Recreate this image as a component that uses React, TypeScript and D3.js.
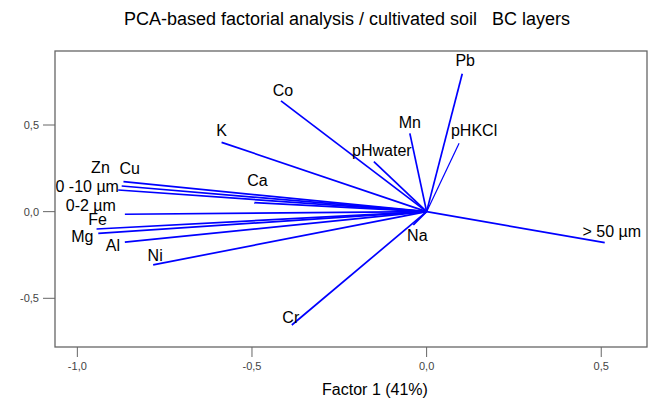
import React, { useRef, useEffect } from "react";
import * as d3 from "d3";

// loadings: factor 1 (x) and factor 2 (y)
const variables = ["Pb", "Mn", "pHKCl", "pHwater", "Co", "K", "Ca", "Zn", "Cu", "0 -10 µm", "0-2 µm", "Fe", "Mg", "Al", "Ni", "Na", "Cr", "> 50 µm"];
const factor1 = [0.102, -0.048, 0.093, -0.151, -0.417, -0.587, -0.493, -0.868, -0.873, -0.883, -0.864, -0.945, -0.94, -0.864, -0.783, -0.038, -0.386, 0.51];
const factor2 = [0.796, 0.452, 0.395, 0.289, 0.639, 0.4, 0.052, 0.173, 0.148, 0.125, -0.015, -0.1, -0.125, -0.176, -0.307, -0.077, -0.654, -0.179];

const xTicks = [-1, -0.5, 0, 0.5];
const yTicks = [-0.5, 0, 0.5];

// label placement relative to the arrow tip (px)
const labelOffsets: { [k: string]: [number, number] } = {
  "Pb": [3, -13],
  "Mn": [0, -11],
  "pHKCl": [15, -13],
  "pHwater": [8, -11],
  "Co": [2, -11],
  "K": [0, -12],
  "Ca": [3, -22],
  "Zn": [-23, -14],
  "Cu": [8, -18],
  "0 -10 µm": [-31, -4],
  "0-2 µm": [-34, -9],
  "Fe": [1, -10],
  "Mg": [-16, 3],
  "Al": [-12, 3],
  "Ni": [2, -9],
  "Na": [4, 10],
  "Cr": [-1, -8],
  "> 50 µm": [7, -11]
};

const fmt = (v: number) => d3.format(".1f")(v).replace(".", ",").replace("−", "-");

const App = () => {
  const node: any = useRef();

  useEffect(() => {
    const width = 650,
      height = 401;
    const left = 55,
      right = 647,
      top = 51,
      bottom = 347;

    const svg = d3.select(node.current).attr("width", width).attr("height", height);
    svg.selectAll("*").remove();

    const x = d3.scaleLinear().domain([-1.064, 0.631]).range([left, right]);
    const y = d3.scaleLinear().domain([-0.781, 0.927]).range([bottom, top]);
    const font = "Arial, 'Liberation Sans', sans-serif";

    svg
      .append("text")
      .attr("x", 347)
      .attr("y", 25)
      .attr("text-anchor", "middle")
      .attr("font-family", font)
      .attr("font-size", "18px")
      .attr("fill", "#000")
      .attr("xml:space", "preserve")
      .style("white-space", "pre")
      .text("PCA-based factorial analysis / cultivated soil   BC layers");

    //vectors
    svg
      .append("g")
      .selectAll("line")
      .data(variables)
      .enter()
      .append("line")
      .attr("x1", x(0))
      .attr("y1", y(0))
      .attr("x2", (_, i) => x(factor1[i]))
      .attr("y2", (_, i) => y(factor2[i]))
      .attr("stroke", "#0000ff")
      .attr("stroke-width", d => (d === "pHKCl" ? 1.2 : 1.7));

    //labels
    svg
      .append("g")
      .selectAll("text")
      .data(variables)
      .enter()
      .append("text")
      .attr("x", (d, i) => x(factor1[i]) + labelOffsets[d][0])
      .attr("y", (d, i) => y(factor2[i]) + labelOffsets[d][1])
      .attr("dy", "0.35em")
      .attr("text-anchor", "middle")
      .attr("font-family", font)
      .attr("font-size", "16px")
      .attr("fill", "#000")
      .text(d => d);

    // frame
    svg
      .append("rect")
      .attr("x", left)
      .attr("y", top)
      .attr("width", right - left)
      .attr("height", bottom - top)
      .attr("fill", "none")
      .attr("stroke", "#666")
      .attr("stroke-width", 1.3);

    // x axis
    const gx = svg.append("g");
    gx.selectAll("line")
      .data(xTicks)
      .enter()
      .append("line")
      .attr("x1", d => x(d))
      .attr("x2", d => x(d))
      .attr("y1", bottom)
      .attr("y2", bottom + 10)
      .attr("stroke", "#666");
    gx.selectAll("text")
      .data(xTicks)
      .enter()
      .append("text")
      .attr("x", d => x(d))
      .attr("y", bottom + 23)
      .attr("text-anchor", "middle")
      .attr("font-family", font)
      .attr("font-size", "11px")
      .attr("fill", "#444")
      .text(d => fmt(d));

    // y axis
    const gy = svg.append("g");
    gy.selectAll("line")
      .data(yTicks)
      .enter()
      .append("line")
      .attr("x1", left - 12)
      .attr("x2", left)
      .attr("y1", d => y(d))
      .attr("y2", d => y(d))
      .attr("stroke", "#666");
    gy.selectAll("text")
      .data(yTicks)
      .enter()
      .append("text")
      .attr("x", left - 16)
      .attr("y", d => y(d))
      .attr("dy", "0.35em")
      .attr("text-anchor", "end")
      .attr("font-family", font)
      .attr("font-size", "11px")
      .attr("fill", "#444")
      .text(d => fmt(d));

    svg
      .append("text")
      .attr("x", 375)
      .attr("y", 395)
      .attr("text-anchor", "middle")
      .attr("font-family", font)
      .attr("font-size", "16px")
      .attr("fill", "#000")
      .text("Factor 1 (41%)");
  }, []);

  return (
    <div style={{ position: "absolute", left: 0, top: 0 }}>
      <svg ref={node}></svg>
    </div>
  );
};

export default App;
